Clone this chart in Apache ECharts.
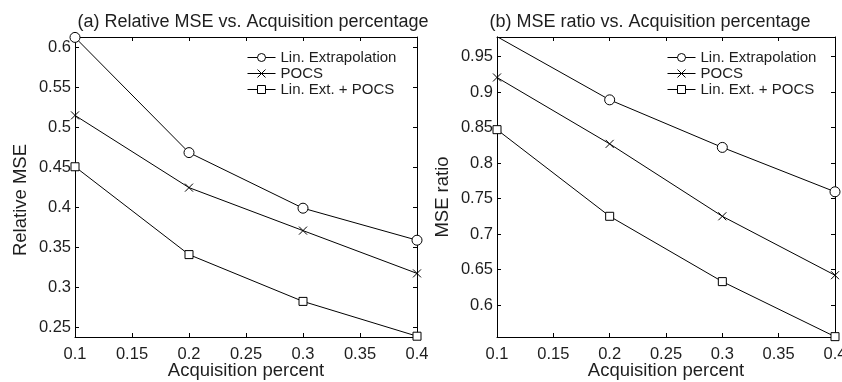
<!DOCTYPE html>
<html><head><meta charset="utf-8">
<script src="https://cdn.jsdelivr.net/npm/echarts@6/dist/echarts.min.js"></script>
<style>html,body{margin:0;padding:0;background:#fff}#c{width:842px;height:382px}</style>
</head><body><div id="c"></div>
<script>
const xValues = [0.1, 0.2, 0.3, 0.4];
const seriesNames = ['Lin. Extrapolation', 'POCS', 'Lin. Ext. + POCS'];
// (a) Relative MSE
const relLinExt = [0.612, 0.468, 0.3985, 0.3585];
const relPOCS = [0.5145, 0.4242, 0.3705, 0.3170];
const relLinExtPOCS = [0.4503, 0.3405, 0.2820, 0.2385];
// (b) MSE ratio
const ratioLinExt = [0.978, 0.889, 0.822, 0.7595];
const ratioPOCS = [0.9205, 0.827, 0.725, 0.642];
const ratioLinExtPOCS = [0.847, 0.725, 0.633, 0.5555];
const xTicks = [0.1, 0.15, 0.2, 0.25, 0.3, 0.35, 0.4];
const relTicks = [0.25, 0.3, 0.35, 0.4, 0.45, 0.5, 0.55, 0.6];
const ratioTicks = [0.6, 0.65, 0.7, 0.75, 0.8, 0.85, 0.9, 0.95];
const titles = ['(a) Relative MSE vs. Acquisition percentage', '(b) MSE ratio vs. Acquisition percentage'];
const yNames = ['Relative MSE', 'MSE ratio'];
const xName = 'Acquisition percent';

const FONT = 'Liberation Sans, Arial, sans-serif';
const TXT = '#1e1e1e';
const crossPath = 'path://M0,0L10,10M10,0L0,10';
const symbols = ['circle', crossPath, 'rect'];
const symSizes = [10, 8, 8];

const grids = [
  {left: 75, right: 425, top: 37, bottom: 45, outerBoundsMode: 'none', containLabel: false},
  {left: 497, right: 7, top: 37, bottom: 45, outerBoundsMode: 'none', containLabel: false}
];
const yExt = [[0.2375, 0.6125], [0.555, 0.9775]];
const yTicks = [relTicks, ratioTicks];
const data = [[relLinExt, relPOCS, relLinExtPOCS], [ratioLinExt, ratioPOCS, ratioLinExtPOCS]];

const xAxis = [], yAxis = [], series = [], legend = [], title = [];
const axisLine = {show: true, lineStyle: {color: '#000', width: 1}};
for (let g = 0; g < 2; g++) {
  xAxis.push({type: 'value', gridIndex: g, min: 0.1, max: 0.4, position: 'bottom',
    name: xName, nameLocation: 'middle', nameGap: 24, nameMoveOverlap: false,
    nameTextStyle: {fontFamily: FONT, fontSize: 18.5, color: TXT},
    axisLine, splitLine: {show: false},
    axisTick: {inside: true, length: 4, customValues: xTicks, lineStyle: {color: '#000'}},
    axisLabel: {customValues: xTicks, fontFamily: FONT, fontSize: 16.5, color: TXT, margin: 9,
      formatter: v => String(+v.toFixed(2))}});
  xAxis.push({type: 'value', gridIndex: g, min: 0.1, max: 0.4, position: 'top',
    axisLine, splitLine: {show: false},
    axisTick: {inside: true, length: 4, customValues: xTicks, lineStyle: {color: '#000'}},
    axisLabel: {show: false}});
  yAxis.push({type: 'value', gridIndex: g, min: yExt[g][0], max: yExt[g][1], position: 'left',
    name: yNames[g], nameLocation: 'middle', nameGap: 45, nameRotate: 90, nameMoveOverlap: false,
    nameTextStyle: {fontFamily: FONT, fontSize: 18.5, color: TXT, padding: [0, g ? 20 : 26, 0, 0]},
    axisLine, splitLine: {show: false},
    axisTick: {inside: true, length: 4, customValues: yTicks[g], lineStyle: {color: '#000'}},
    axisLabel: {customValues: yTicks[g], fontFamily: FONT, fontSize: 16.5, color: TXT, margin: 4,
      formatter: v => String(+v.toFixed(2))}});
  yAxis.push({type: 'value', gridIndex: g, min: yExt[g][0], max: yExt[g][1], position: 'right',
    axisLine, splitLine: {show: false},
    axisTick: {inside: true, length: 4, customValues: yTicks[g], lineStyle: {color: '#000'}},
    axisLabel: {show: false}});
  const names = [];
  for (let s = 0; s < 3; s++) {
    const nm = seriesNames[s] + (g ? ' ' : '');
    names.push(nm);
    series.push({type: 'line', name: nm, xAxisIndex: g * 2, yAxisIndex: g * 2,
      data: xValues.map((x, i) => [x, data[g][s][i]]),
      symbol: symbols[s], symbolSize: symSizes[s], showAllSymbol: true, clip: true,
      lineStyle: {color: '#000', width: 1},
      itemStyle: {color: '#fff', borderColor: '#000', borderWidth: 1},
      emphasis: {disabled: true}, animation: false});
  }
  legend.push({data: names, orient: 'vertical', left: g ? 667 : 247, top: 50, padding: 0,
    itemWidth: 28, itemHeight: 10, itemGap: 1,
    lineStyle: {width: 1, color: '#000'},
    itemStyle: {color: '#fff', borderColor: '#000', borderWidth: 1},
    formatter: n => n.trim(),
    textStyle: {fontFamily: FONT, fontSize: 15, color: TXT},
    inactiveColor: '#000', selectedMode: false});
}
title.push({text: titles[0], left: 248, top: 8, textAlign: 'center',
  textStyle: {fontFamily: FONT, fontSize: 18, fontWeight: 'normal', color: TXT}});
title.push({text: titles[1], left: 645, top: 8, textAlign: 'center',
  textStyle: {fontFamily: FONT, fontSize: 18, fontWeight: 'normal', color: TXT}});

const chart = echarts.init(document.getElementById('c'), null, {renderer: 'canvas'});
chart.setOption({animation: false, backgroundColor: '#fff', title, grid: grids, xAxis, yAxis, series, legend});
</script></body></html>
